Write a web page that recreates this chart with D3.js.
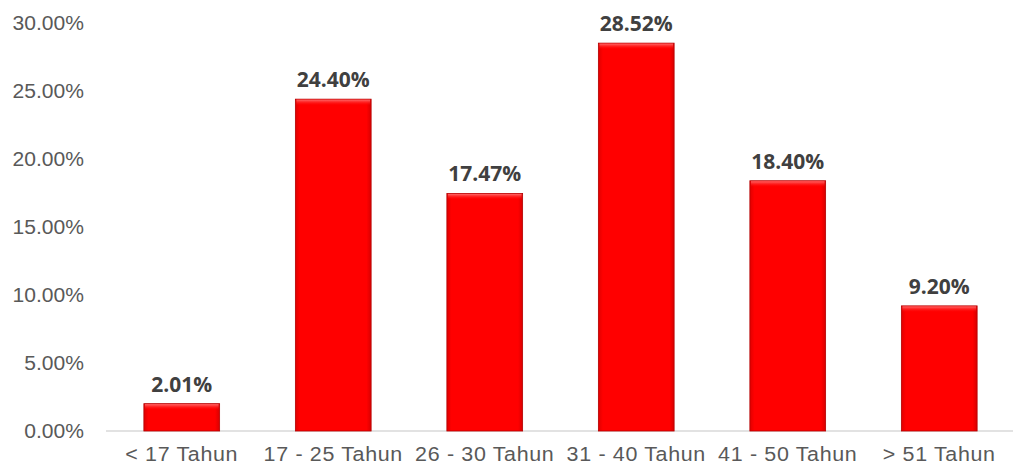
<!DOCTYPE html>
<html>
<head>
<meta charset="utf-8">
<script src="https://cdn.jsdelivr.net/npm/d3@7"></script>
<style>
  body { margin: 0; background: #fff; }
  svg text { font-family: "Liberation Sans", Arial, sans-serif; }
</style>
</head>
<body>
<div id="chart"></div>
<script>
var categories = ["< 17 Tahun", "17 - 25 Tahun", "26 - 30 Tahun", "31 - 40 Tahun", "41 - 50 Tahun", "> 51 Tahun"];
var values = [2.01, 24.40, 17.47, 28.52, 18.40, 9.20];
var yTicks = [0, 5, 10, 15, 20, 25, 30];

var margin = { top: 23, right: -2, bottom: 34, left: 106 },
    width = 1013 - margin.left - margin.right,
    height = 465 - margin.top - margin.bottom;

var svg = d3.select("#chart").append("svg")
    .attr("width", 1013)
    .attr("height", 465);

// bar shading
var defs = svg.append("defs");
var grad = defs.append("linearGradient")
    .attr("id", "barGrad")
    .attr("x1", 0).attr("y1", 0).attr("x2", 1).attr("y2", 0);
grad.append("stop").attr("offset", "0%").attr("stop-color", "#e00000");
grad.append("stop").attr("offset", "6%").attr("stop-color", "#ff0000");
grad.append("stop").attr("offset", "94%").attr("stop-color", "#ff0000");
grad.append("stop").attr("offset", "100%").attr("stop-color", "#d80000");

var topGrad = defs.append("linearGradient")
    .attr("id", "topGrad")
    .attr("x1", 0).attr("y1", 0).attr("x2", 0).attr("y2", 1);
topGrad.append("stop").attr("offset", "0%").attr("stop-color", "#ff6a6a");
topGrad.append("stop").attr("offset", "100%").attr("stop-color", "#ff0000").attr("stop-opacity", 0);

var g = svg.append("g")
    .attr("transform", "translate(" + margin.left + "," + margin.top + ")");

var x = d3.scaleBand()
    .domain(categories)
    .range([0, width])
    .paddingInner(0.5)
    .paddingOuter(0.25);

var y = d3.scaleLinear()
    .domain([0, 30])
    .range([height, 0]);

// y axis (labels only)
var yAxis = d3.axisLeft(y).tickValues(yTicks)
    .tickFormat(function (d) { return d.toFixed(2) + "%"; })
    .tickSize(0);

g.append("g")
    .call(yAxis)
    .call(function (a) {
        a.select(".domain").remove();
        a.selectAll("text")
            .attr("x", 0)
            .attr("transform", "translate(-22,0) scale(1.08,1)")
            .attr("fill", "#595959")
            .style("font-size", "19.5px")
            .style("font-family", "'Liberation Sans', Arial, sans-serif");
    });

// baseline
g.append("line")
    .attr("x1", 0).attr("x2", width + 10)
    .attr("y1", y(0)).attr("y2", y(0))
    .attr("stroke", "#d9d9d9").attr("stroke-width", 1.3);

// x axis labels
var xAxis = d3.axisBottom(x).tickSize(0);
g.append("g")
    .attr("transform", "translate(0," + height + ")")
    .call(xAxis)
    .call(function (a) {
        a.select(".domain").remove();
        a.selectAll("text")
            .attr("y", 30)
            .attr("dy", 0)
            .attr("transform", "scale(1.1,1)")
            .attr("fill", "#595959")
            .style("font-size", "19.5px")
            .style("letter-spacing", "0.6px")
            .style("font-family", "'Liberation Sans', Arial, sans-serif");
    });

// bars
var bars = g.append("g").selectAll("g.bar")
    .data(values)
    .enter().append("g")
    .attr("class", "bar");

bars.append("rect")
    .attr("x", function (d, i) { return x(categories[i]); })
    .attr("y", function (d) { return y(d); })
    .attr("width", x.bandwidth())
    .attr("height", function (d) { return y(0) - y(d); })
    .attr("fill", "url(#barGrad)")
    .attr("stroke", "#b30000")
    .attr("stroke-width", 0.8);

bars.append("rect")
    .attr("x", function (d, i) { return x(categories[i]) + 1; })
    .attr("y", function (d) { return y(d) + 0.5; })
    .attr("width", x.bandwidth() - 2)
    .attr("height", 6)
    .attr("fill", "url(#topGrad)");

// value labels
bars.append("text")
    .attr("x", function (d, i) { return x(categories[i]) + x.bandwidth() / 2; })
    .attr("y", function (d) { return y(d) - 12; })
    .attr("text-anchor", "middle")
    .attr("fill", "#404040")
    .style("font-size", "21px")
    .style("font-weight", "bold")
    .style("font-family", "'Open Sans', 'Liberation Sans', Arial, sans-serif")
    .text(function (d) { return d.toFixed(2) + "%"; });
</script>
</body>
</html>
